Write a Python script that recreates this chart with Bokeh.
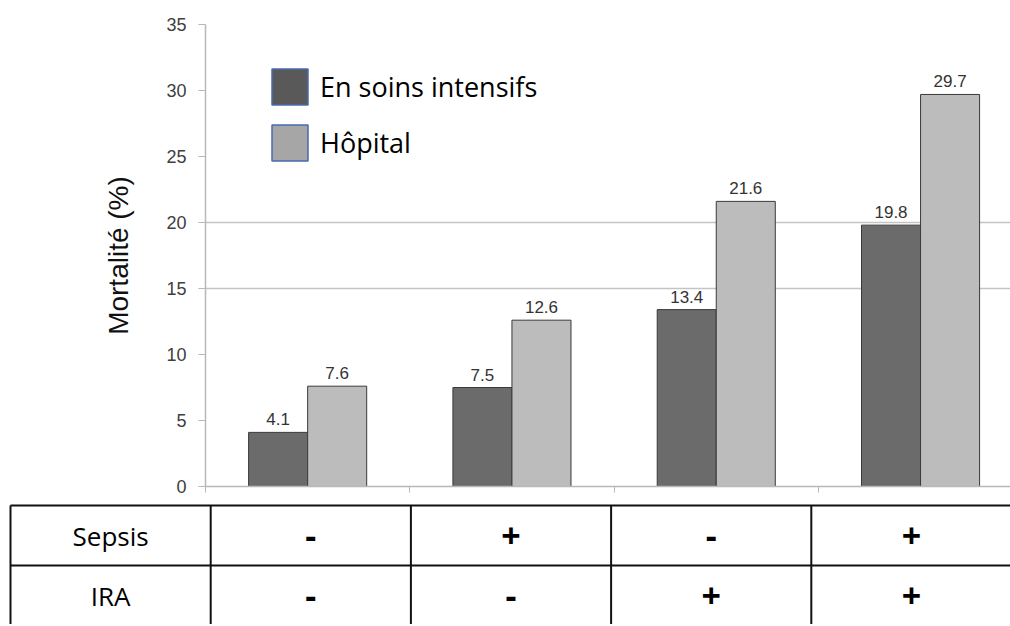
import numpy as np
from bokeh.plotting import figure
from bokeh.models import (Range1d, FixedTicker, Legend, LegendItem, ColumnDataSource,
                          CustomJSTickFormatter)
from bokeh.core.properties import value
from bokeh.embed import file_html
from bokeh.resources import INLINE

# ---- data ----
series_names = ["En soins intensifs", "Hôpital"]
icu = [4.1, 7.5, 13.4, 19.8]
hosp = [7.6, 12.6, 21.6, 29.7]
row_labels = ["Sepsis", "IRA"]
sepsis = ["-", "+", "-", "+"]
ira = ["-", "-", "+", "+"]
y_ticks = [0, 5, 10, 15, 20, 25, 30, 35]
grid_ticks = [15, 20, 35]

# ---- styling ----
DARK = "#6b6b6b"
LIGHT = "#bcbcbc"
LEG_DARK = "#595959"
LEG_LIGHT = "#a6a6a6"
LEG_BORDER = "#4a6bb0"
AX = "#b8b8b8"

W = 1010
H1 = 502
LEFT = 205
cat_px = 204.3
frame_w = W - LEFT
n = len(icu)
bw = 0.289

p = figure(width=W, height=H1, x_range=Range1d(0, frame_w / cat_px), y_range=Range1d(0, 35),
           output_backend="svg", toolbar_location=None,
           min_border_left=LEFT, min_border_right=0, min_border_top=24, min_border_bottom=16)
p.outline_line_color = None
p.background_fill_color = "white"
p.xgrid.visible = False
p.ygrid.ticker = FixedTicker(ticks=grid_ticks)
p.ygrid.grid_line_color = "#c4c4c4"
p.ygrid.grid_line_width = 1.5

ya = p.yaxis[0]
ya.ticker = FixedTicker(ticks=y_ticks)
ya.axis_line_color = AX
ya.axis_line_width = 1.5
ya.major_tick_line_color = AX
ya.major_tick_out = 7
ya.major_tick_in = 0
ya.minor_tick_line_color = None
ya.major_label_text_font = "Liberation Sans"
ya.major_label_text_font_size = "18px"
ya.major_label_text_color = "#404040"
ya.major_label_standoff = 12
ya.axis_label = "Mortalité (%)"
ya.axis_label_text_font = "Liberation Sans"
ya.axis_label_text_font_size = "28px"
ya.axis_label_text_font_style = "normal"
ya.axis_label_text_color = "#111111"
ya.axis_label_standoff = 29

xa = p.xaxis[0]
xa.ticker = FixedTicker(ticks=list(range(n)))
xa.axis_line_color = AX
xa.axis_line_width = 1.5
xa.major_tick_line_color = AX
xa.major_tick_out = 6
xa.major_tick_in = 0
xa.minor_tick_line_color = None
xa.formatter = CustomJSTickFormatter(code="return ''")
xa.major_label_standoff = 0

idx = np.arange(n)
src = ColumnDataSource(dict(
    x1=idx + 0.5 - bw / 2, x2=idx + 0.5 + bw / 2, icu=icu, hosp=hosp,
    l1=[f"{v:.1f}" for v in icu], l2=[f"{v:.1f}" for v in hosp]))

p.vbar(x="x1", top="icu", width=bw, source=src, fill_color=DARK, line_color="#3a3a3a", line_width=1)
p.vbar(x="x2", top="hosp", width=bw, source=src, fill_color=LIGHT, line_color="#3a3a3a", line_width=1)

for xc, yc, lc in (("x1", "icu", "l1"), ("x2", "hosp", "l2")):
    p.text(x=xc, y=yc, text=lc, source=src, text_align="center", text_baseline="bottom",
           y_offset=-7, text_font=value("Liberation Sans"), text_font_size="17px",
           text_color="#333333")

# legend with dummy (non-drawn, NaN) renderers
r1 = p.vbar(x=[np.nan], top=[np.nan], width=bw, fill_color=LEG_DARK, line_color=LEG_BORDER, line_width=1.5)
r2 = p.vbar(x=[np.nan], top=[np.nan], width=bw, fill_color=LEG_LIGHT, line_color=LEG_BORDER, line_width=1.5)
leg = Legend(items=[LegendItem(label=series_names[0], renderers=[r1]),
                    LegendItem(label=series_names[1], renderers=[r2])],
             location=(62, 321), glyph_width=45, glyph_height=45, spacing=11,
             label_standoff=8, padding=0, margin=0,
             label_text_font="Open Sans", label_text_font_size="27px",
             label_text_color="#000000",
             border_line_color=None, background_fill_alpha=0)
p.add_layout(leg, "center")

# ---- table ----
H2 = 122
col_px = 200.2
row_px = 60
t = figure(width=W, height=H2,
           x_range=Range1d(-10 / col_px, (W - 10) / col_px),
           y_range=Range1d((H2 - 3) / row_px, -3 / row_px),
           output_backend="svg", toolbar_location=None, min_border=0,
           x_axis_type=None, y_axis_type=None)
t.outline_line_color = None
t.xgrid.visible = False
t.ygrid.visible = False

ncols = n + 1
nrows = len(row_labels)
hy = np.arange(nrows + 1)
t.segment(x0=np.zeros(len(hy)), x1=np.full(len(hy), ncols), y0=hy, y1=hy,
          line_color="#111111", line_width=2)
vx = np.arange(ncols + 1)
t.segment(x0=vx, x1=vx, y0=np.zeros(len(vx)), y1=np.full(len(vx), nrows),
          line_color="#111111", line_width=2)

t.text(x=np.full(nrows, 0.5), y=np.arange(nrows) + 0.5, text=row_labels,
       text_align="center", text_baseline="middle", text_font=value("Open Sans"),
       text_font_size="26px", text_color="#000000")

cells_x = []
cells_y = []
cells_t = []
for r, vals in enumerate([sepsis, ira]):
    for c, v in enumerate(vals):
        cells_x.append(c + 1.5)
        cells_y.append(r + 0.5)
        cells_t.append(v)
t.text(x=cells_x, y=cells_y, text=cells_t, text_align="center", text_baseline="middle",
       text_font=value("Open Sans"), text_font_style="bold", text_font_size="34px",
       text_color="#000000")

open("out.html", "w").write(file_html([p, t], INLINE))
